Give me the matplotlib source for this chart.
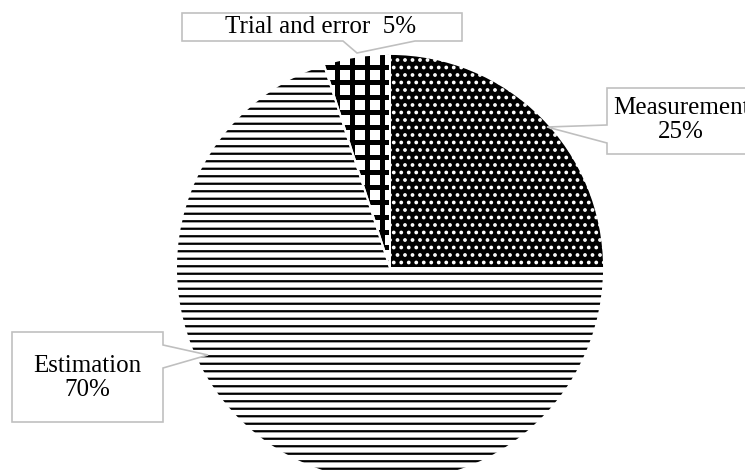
import matplotlib.pyplot as plt
from matplotlib.patches import Polygon

metodos = ['Measurement', 'Estimation', 'Trial and error']
porcentajes = [25, 70, 5]
separadores = ['\n', '\n', '  ']

fondos = ['black', 'white', 'white']
tramas = ['..', '--', '|-']
color_trama = ['white', 'black', 'black']
grosor_trama = [1.8, 1.8, 4.0]

W, H = 745, 471
plt.rcParams['font.family'] = 'Liberation Serif'
plt.rcParams['hatch.linewidth'] = 1.8

fig = plt.figure(figsize=(W / 90, H / 90), dpi=90)
ax = fig.add_axes([0, 0, 1, 1])


def px(x, y):
    # coordenadas en pixeles medidas desde arriba
    return (x, H - y)


centro = px(390, 268)
radio = 214

cunas, _ = ax.pie(porcentajes, colors=fondos, startangle=90, counterclock=False,
                  center=centro, radius=radio, wedgeprops=dict(linewidth=0))
for cuna, trama, ct, gt in zip(cunas, tramas, color_trama, grosor_trama):
    cuna.set_hatch(trama)
    cuna.set_edgecolor(ct)
    cuna.set_linewidth(0)
    cuna.set_hatch_linewidth(gt)

# bordes blancos entre porciones
ax.pie(porcentajes, colors=['none'] * 3, startangle=90, counterclock=False,
       center=centro, radius=radio, wedgeprops=dict(edgecolor='white', linewidth=1.5))

# cuadros de texto con flecha
globos = [
    [(607, 88), (760, 88), (760, 154), (607, 154), (607, 143), (547, 127), (607, 125)],
    [(12, 332), (163, 332), (163, 345), (208, 355), (163, 368), (163, 422), (12, 422)],
    [(182, 13), (462, 13), (462, 41), (415, 41), (357, 53), (343, 41), (182, 41)],
]
pos_texto = [(681, 120), (87, 378), (321, 27)]

for nombre, p, sep, globo, pos in zip(metodos, porcentajes, separadores, globos, pos_texto):
    ax.add_patch(Polygon([px(*v) for v in globo], closed=True, facecolor='white',
                         edgecolor='#bfbfbf', linewidth=1.3, zorder=5))
    ax.text(*px(*pos), f'{nombre}{sep}{p}%', ha='center', va='center',
            fontsize=20, linespacing=1.1, zorder=6)

ax.set_aspect('auto')
ax.set_xlim(0, W)
ax.set_ylim(0, H)
ax.axis('off')

plt.savefig('out.png', dpi=90)
